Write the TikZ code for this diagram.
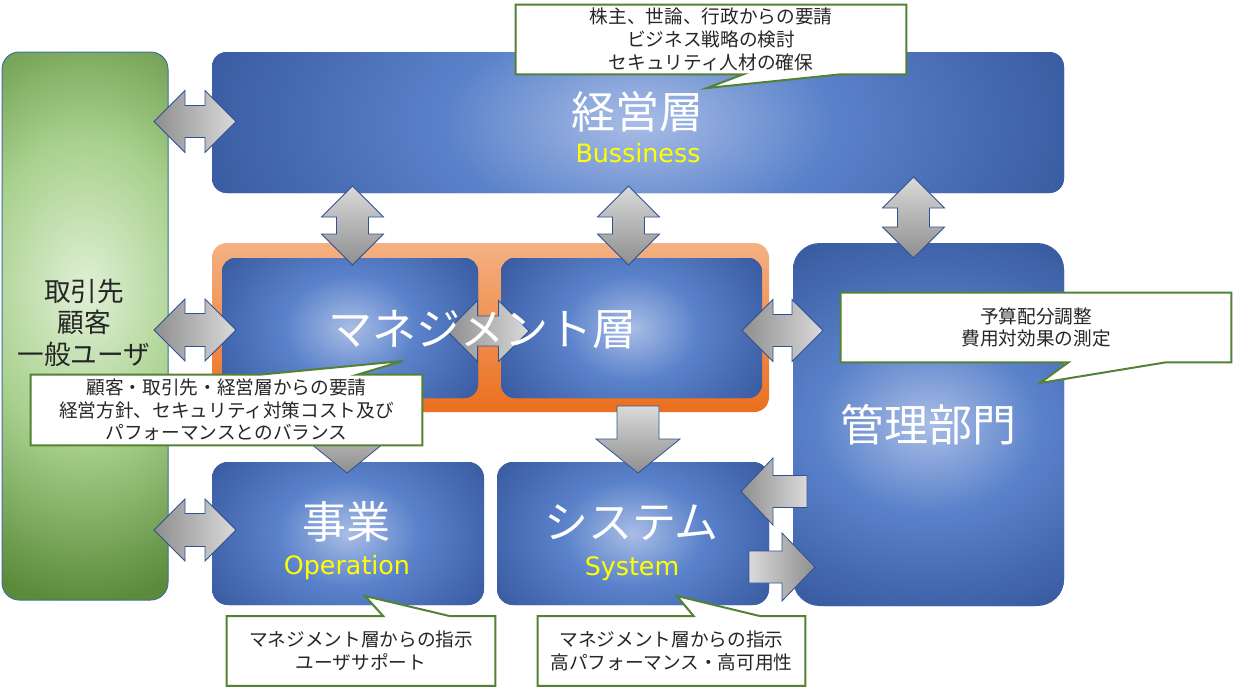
\documentclass[tikz,border=0pt]{standalone}
\usepackage{fontspec}
\newfontfamily\jp{Noto Sans CJK JP}
\newfontfamily\lat{DejaVu Sans}
\usetikzlibrary{calc}
\definecolor{bIn}{HTML}{A9BDE6}
\definecolor{bMid}{HTML}{5A82CA}
\definecolor{bOut}{HTML}{3A5CA3}
\definecolor{gIn}{HTML}{E0F0D6}
\definecolor{gMid}{HTML}{A9D18E}
\definecolor{gOut}{HTML}{5B8B3A}
\definecolor{gEdge}{HTML}{41719C}
\definecolor{oTop}{HTML}{F4B183}
\definecolor{oBot}{HTML}{EB6F1E}
\definecolor{gLight}{HTML}{DADADA}
\definecolor{gDark}{HTML}{8E8E8E}
\definecolor{arrEdge}{HTML}{2F528F}
\definecolor{cGreen}{HTML}{548235}
\definecolor{ylw}{HTML}{FFFF00}
\definecolor{txt}{HTML}{262626}
\pgfdeclareradialshading{blueglow}{\pgfpoint{0bp}{0bp}}{color(0bp)=(bIn); color(11bp)=(bMid); color(25bp)=(bOut); color(50bp)=(bOut)}
\pgfdeclareradialshading{greenglow}{\pgfpoint{0bp}{0bp}}{color(0bp)=(gIn); color(12bp)=(gMid); color(25bp)=(gOut); color(50bp)=(gOut)}
\pgfdeclarelayer{callbg}
\pgfdeclarelayer{calltx}
\pgfsetlayers{main,callbg,calltx}

\newcommand{\rbox}[6]{\node[#6, minimum width={(#4-#2)*0.75pt}, minimum height={(#5-#3)*0.75pt}] (#1) at ({(#2+#4)/2},{(#3+#5)/2}) {};}
% horizontal double arrow: xl, xr, cy, halfhead, halfshaft
\newcommand{\hdarrow}[5]{\shadedraw[blockarrow, left color=gDark, right color=gLight]
 (#1,#3) -- ({#1+#4},{#3-#4}) -- ({#1+#4},{#3-#5}) -- ({#2-#4},{#3-#5}) -- ({#2-#4},{#3-#4}) -- (#2,#3) -- ({#2-#4},{#3+#4}) -- ({#2-#4},{#3+#5}) -- ({#1+#4},{#3+#5}) -- ({#1+#4},{#3+#4}) -- cycle;}
% vertical double arrow: cx, yt, yb, halfhead, halfshaft
\newcommand{\vdarrow}[5]{\shadedraw[blockarrow, top color=gLight, bottom color=gDark]
 (#1,#2) -- ({#1+#4},{#2+#4}) -- ({#1+#5},{#2+#4}) -- ({#1+#5},{#3-#4}) -- ({#1+#4},{#3-#4}) -- (#1,#3) -- ({#1-#4},{#3-#4}) -- ({#1-#5},{#3-#4}) -- ({#1-#5},{#2+#4}) -- ({#1-#4},{#2+#4}) -- cycle;}
% down arrow: cx, ytop, ytip, halfhead, halfshaft, headlen
\newcommand{\blkdown}[6]{\shadedraw[blockarrow, top color=gLight, bottom color=gDark]
 ({#1-#5},#2) -- ({#1+#5},#2) -- ({#1+#5},{#3-#6}) -- ({#1+#4},{#3-#6}) -- (#1,#3) -- ({#1-#4},{#3-#6}) -- ({#1-#5},{#3-#6}) -- cycle;}
% left arrow: xtip, xend, cy, halfhead, halfshaft, headlen
\newcommand{\blkleft}[6]{\shadedraw[blockarrow, left color=gDark, right color=gLight]
 (#1,#3) -- ({#1+#6},{#3-#4}) -- ({#1+#6},{#3-#5}) -- (#2,{#3-#5}) -- (#2,{#3+#5}) -- ({#1+#6},{#3+#5}) -- ({#1+#6},{#3+#4}) -- cycle;}
% right arrow: xstart, xtip, cy, halfhead, halfshaft, headlen
\newcommand{\blkright}[6]{\shadedraw[blockarrow, left color=gLight, right color=gDark]
 (#1,{#3-#5}) -- ({#2-#6},{#3-#5}) -- ({#2-#6},{#3-#4}) -- (#2,#3) -- ({#2-#6},{#3+#4}) -- ({#2-#6},{#3+#5}) -- (#1,{#3+#5}) -- cycle;}

\begin{document}
\begin{tikzpicture}[x=0.75pt,y=-0.75pt,
  bluebox/.style={rectangle, rounded corners=#1, inner sep=0pt, outer sep=0pt, fill=bOut},
  glow/.style 2 args={path picture={\shade[shading=blueglow] (path picture bounding box.center) ellipse [x radius={#1*0.75pt}, y radius={#2*0.75pt}];}},
  greenpanel/.style={rectangle, rounded corners=13pt, inner sep=0pt, fill=gOut, draw=gEdge, line width=0.75pt,
    path picture={\shade[shading=greenglow] ($(path picture bounding box.center)+(0pt,27pt)$) ellipse [x radius=165pt, y radius=235pt];}},
  orangeframe/.style={rectangle, rounded corners=11pt, inner sep=0pt, top color=oTop, bottom color=oBot},
  blockarrow/.style={draw=arrEdge, line width=0.6pt, line join=miter},
  bigjp/.style={font=\jp\fontsize{33}{36}\selectfont, text=white, inner sep=0pt},
  eng/.style={font=\lat\fontsize{19}{22}\selectfont, text=ylw, inner sep=0pt},
  greentext/.style={font=\jp\fontsize{20}{23.6}\selectfont, text=txt, align=center, inner sep=0pt},
  callout/.style={font=\jp\fontsize{14}{17}\selectfont, text=txt, align=center, inner sep=0pt},
  calloutline/.style={fill=white, draw=cGreen, line width=1.5pt, line join=miter}
]
\useasboundingbox (0,0) rectangle (1233,687);

% left panel
\rbox{party}{2}{52}{168}{600}{greenpanel}
% blue boxes
\rbox{keiei}{212}{52}{1064}{193}{bluebox=11pt, glow={440}{240}}
\rbox{kanri}{793}{243}{1064}{606}{bluebox=20pt, glow={250}{200}}
\rbox{jigyo}{212}{462}{484}{605}{bluebox=12pt, glow={160}{120}}
\rbox{system}{497}{462}{769}{605}{bluebox=12pt, glow={160}{120}}
\rbox{frame}{212}{243}{769}{412}{orangeframe}
\rbox{mgL}{222}{258}{478}{398}{bluebox=10pt, glow={150}{120}}
\rbox{mgR}{501}{258}{762}{398}{bluebox=10pt, glow={150}{120}}

% block arrows
\hdarrow{154}{236}{121.5}{31}{16}
\hdarrow{154}{236}{330}{31}{16.5}
\hdarrow{154}{236}{530}{31}{16.5}
\hdarrow{742}{823}{330.5}{31}{16}
\hdarrow{447}{529}{331}{30.5}{15}
\vdarrow{352.5}{186}{265}{31}{16}
\vdarrow{628.5}{186}{265}{31}{16}
\vdarrow{913.5}{177}{258}{31}{16}
\blkdown{347}{406}{473}{42}{21}{34}
\blkdown{638}{406}{473}{42}{21}{34}
\blkleft{741}{807}{491.5}{33.5}{16}{32}
\blkright{749}{815}{567}{34}{16}{33}

% labels
\node[greentext] (lparty) at (84,322.5) {取引先\\顧客\\一般ユーザ};
\node[bigjp] (lkeiei) at (637.5,112) {経営層};
\node[eng] (lbus) at (638,153) {Bussiness};
\node[bigjp] (lmgmt) at (482.5,330) {マネジメント層};
\node[bigjp] (lkanri) at (928,425) {管理部門};
\node[bigjp] (ljigyo) at (346,522) {事業};
\node[eng] (lop) at (347,567) {Operation};
\node[bigjp] (lsys) at (631.5,523) {システム};
\node[eng] (lsys2) at (632,569) {System};

% callouts
\coordinate (t1) at (707,88);
\coordinate (t2) at (403,361);
\coordinate (t3) at (1040,383);
\coordinate (t4) at (365,596);
\coordinate (t5) at (677,596);
\begin{pgfonlayer}{calltx}
\node[callout, minimum width={390*0.75pt}, minimum height={69*0.75pt}] (c1) at (711,39.5) {株主、世論、行政からの要請\\ビジネス戦略の検討\\セキュリティ人材の確保};
\node[callout, minimum width={391*0.75pt}, minimum height={70*0.75pt}] (c2) at (226.5,410) {顧客・取引先・経営層からの要請\\経営方針、セキュリティ対策コスト及び\\パフォーマンスとのバランス};
\node[callout, minimum width={390*0.75pt}, minimum height={69*0.75pt}] (c3) at (1036,327.5) {予算配分調整\\費用対効果の測定};
\node[callout, minimum width={268*0.75pt}, minimum height={69*0.75pt}] (c4) at (361,651) {マネジメント層からの指示\\ユーザサポート};
\node[callout, minimum width={267*0.75pt}, minimum height={69*0.75pt}] (c5) at (671.5,651) {マネジメント層からの指示\\高パフォーマンス・高可用性};
\end{pgfonlayer}
\begin{pgfonlayer}{callbg}
\filldraw[calloutline] (c1.north west) -- (c1.north east) -- (c1.south east) -- ($(c1.south west)!10/12!(c1.south east)$) -- (t1) -- ($(c1.south west)!7/12!(c1.south east)$) -- (c1.south west) -- cycle;
\filldraw[calloutline] (c2.south west) -- (c2.south east) -- (c2.north east) -- ($(c2.north west)!10/12!(c2.north east)$) -- (t2) -- ($(c2.north west)!7/12!(c2.north east)$) -- (c2.north west) -- cycle;
\filldraw[calloutline] (c3.north west) -- (c3.north east) -- (c3.south east) -- ($(c3.south west)!10/12!(c3.south east)$) -- (t3) -- ($(c3.south west)!7/12!(c3.south east)$) -- (c3.south west) -- cycle;
\filldraw[calloutline] (c4.south west) -- (c4.south east) -- (c4.north east) -- ($(c4.north west)!10/12!(c4.north east)$) -- (t4) -- ($(c4.north west)!7/12!(c4.north east)$) -- (c4.north west) -- cycle;
\filldraw[calloutline] (c5.south west) -- (c5.south east) -- (c5.north east) -- ($(c5.north west)!10/12!(c5.north east)$) -- (t5) -- ($(c5.north west)!7/12!(c5.north east)$) -- (c5.north west) -- cycle;
\end{pgfonlayer}
\end{tikzpicture}
\end{document}
